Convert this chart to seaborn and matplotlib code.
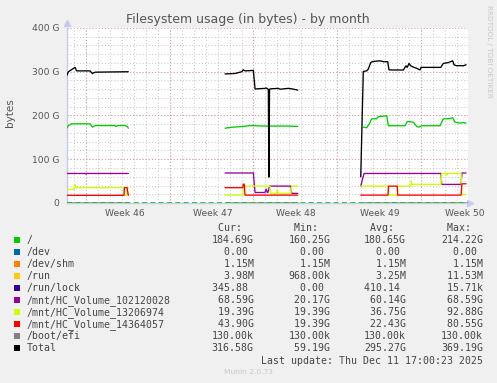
import numpy as np
import pandas as pd
import matplotlib
matplotlib.use("Agg")
import matplotlib.pyplot as plt
from matplotlib.patches import Rectangle
import seaborn as sns

nan = np.nan

# waktu dalam hari sejak awal jendela grafik (33 hari), nilai dalam GB
root_t = [0.00, 0.14, 0.41, 1.92, 2.11, 2.33, 3.97, 4.05, 4.25, 4.80, 4.98, 5.07, nan,
          13.02, 13.70, 14.52, 15.07, 16.45, 18.00, 19.00, nan,
          24.39, 24.67, 24.88, 25.08, 25.49, 25.63, 26.32, 26.45, 27.82, 28.01, 28.50,
          28.78, 28.97, 29.19, 30.70, 30.97, 31.38, 31.74, 31.92, 32.34, 32.61, 32.84]
root_v = [171, 177, 181, 181, 173.4, 177, 177, 175, 177, 177, 175, 171, nan,
          171, 173.4, 175, 177, 175.7, 176, 175, nan,
          173.4, 172, 181, 192.5, 192.5, 197.7, 199, 176.6, 176.6, 186.4, 184.8,
          175, 173.4, 176.6, 176.6, 192.5, 192.5, 194.8, 184.8, 182.5, 184, 182.5]

total_t = [0.00, 0.14, 0.68, 0.82, 1.92, 2.11, 2.33, 3.50, 5.07, nan,
           13.02, 13.84, 14.39, 14.52, 14.66, 15.35, 15.49, 16.31, 16.39, 16.58, 16.63,
           16.68, 16.78, 17.40, 17.54, 18.20, 18.50, 19.00, nan,
           24.18, 24.39, 24.67, 24.80, 25.00, 25.16, 25.76, 26.04, 26.40, 26.50, 26.73,
           27.68, 27.90, 28.00, 28.15, 28.29, 28.56, 28.78, 29.05, 29.14, 30.76, 30.97,
           31.38, 31.74, 31.85, 32.07, 32.34, 32.61, 32.84]
total_v = [291, 300, 310, 302, 302, 296, 299, 299.5, 300, nan,
           295, 296, 300, 304.5, 302, 303, 260.7, 262, 263, 260, 59.2,
           260, 261, 262, 260, 262, 261, 258, nan,
           59.8, 300.7, 302, 306, 321, 323.4, 325, 323, 323, 304.5, 304,
           304, 313.6, 310, 319, 313.6, 310, 308, 304, 310, 310, 319,
           321, 325, 316, 313.6, 314, 313.6, 316]

vol102_t = [0.00, 1.55, 1.60, 1.65, 5.07, nan,
            13.02, 15.35, 15.49, 16.30, 16.40, 16.50, 16.55, 16.68, 18.44, 18.50, 19.00, nan,
            24.18, 24.45, 30.78, 30.84, 32.43, 32.50, 32.84]
vol102_v = [67.5, 67.5, 66, 67.5, 67.5, nan,
            68.6, 68.6, 24, 24, 32, 24, 24, 38.6, 38.6, 22, 22, nan,
            38.6, 67.5, 67.5, 42.5, 42.5, 68.6, 68.6]

vol132_t = [0.00, 0.60, 0.68, 0.75, 4.71, 4.75, 4.96, 5.00, 5.07, nan,
            13.02, 14.50, 14.52, 16.72, 16.78, 17.25, 17.32, 17.39, 18.44, 18.50, 19.00, nan,
            24.18, 26.42, 26.47, 27.18, 27.22, 28.30, 28.33, 28.38, 30.78, 30.84,
            31.20, 31.25, 31.32, 32.43, 32.50, 32.84]
vol132_v = [31, 31, 42, 35, 35, 18, 18, 35, 35, nan,
            18, 18, 38.6, 38.6, 22, 22, 31, 22, 22, 38.6, 38.6, nan,
            38.6, 38.6, 18, 18, 38.6, 38.6, 50, 42.5, 42.5, 67.5,
            67.5, 63, 67.5, 67.5, 19.4, 19.4]

vol143_t = [0.00, 4.71, 4.75, 4.96, 5.07, nan,
            13.02, 14.48, 14.52, 14.60, 14.66, 19.00, nan,
            24.18, 26.42, 26.47, 27.18, 27.22, 32.43, 32.50, 32.84]
vol143_v = [17.5, 17.5, 35, 35, 17.5, nan,
            35, 35, 43, 43, 18, 18, nan,
            18, 18, 38.6, 38.6, 18, 18, 43.9, 43.9]

# seri yang nilainya mendekati nol (GB), hanya pada rentang data
segmen = [(0.00, 5.07), (13.02, 19.00), (24.18, 32.84)]
kecil_nama = ["/dev", "/dev/shm", "/run", "/run/lock", "/boot/efi"]
kecil_nilai = [0.0, 0.00115, 0.00398, 0.0, 0.00013]

# tabel legenda
label = ["/", "/dev", "/dev/shm", "/run", "/run/lock", "/mnt/HC_Volume_102120028",
         "/mnt/HC_Volume_13206974", "/mnt/HC_Volume_14364057", "/boot/efi", "Total"]
warna = ["#00CC00", "#0066B3", "#FF8000", "#FFCC00", "#330099", "#990099",
         "#CCFF00", "#FF0000", "#808080", "#000000"]
cur = ["184.69G", "0.00 ", "1.15M", "3.98M", "345.88 ", "68.59G", "19.39G", "43.90G", "130.00k", "316.58G"]
mins = ["160.25G", "0.00 ", "1.15M", "968.00k", "0.00 ", "20.17G", "19.39G", "19.39G", "130.00k", "59.19G"]
avg = ["180.65G", "0.00 ", "1.15M", "3.25M", "410.14 ", "60.14G", "36.75G", "22.43G", "130.00k", "295.27G"]
maks = ["214.22G", "0.00 ", "1.15M", "11.53M", "15.71k", "68.59G", "92.88G", "80.55G", "130.00k", "369.19G"]

minggu_label = ["Week 46", "Week 47", "Week 48", "Week 49", "Week 50"]
minggu_pos = [4.79, 12.03, 18.86, 25.76, 32.75]
minggu_awal = [1.56, 8.46, 15.36, 22.26, 29.16]
y_ticks = [0, 100, 200, 300, 400]
y_labels = ["0", "100 G", "200 G", "300 G", "400 G"]


def ke_frame(nama, t, v):
    t = np.asarray(t, dtype=float)
    v = np.asarray(v, dtype=float)
    seg = np.cumsum(np.isnan(t))
    df = pd.DataFrame({"day": t, "val": v, "seg": seg, "series": nama})
    return df.dropna()


frames = []
for nama, nilai in zip(kecil_nama, kecil_nilai):
    ts, vs = [], []
    for a, b in segmen:
        ts += [a, b, nan]
        vs += [nilai, nilai, nan]
    frames.append(ke_frame(nama, ts, vs))
frames.append(ke_frame("/", root_t, root_v))
frames.append(ke_frame("/mnt/HC_Volume_102120028", vol102_t, vol102_v))
frames.append(ke_frame("/mnt/HC_Volume_13206974", vol132_t, vol132_v))
frames.append(ke_frame("/mnt/HC_Volume_14364057", vol143_t, vol143_v))
frames.append(ke_frame("Total", total_t, total_v))
data = pd.concat(frames, ignore_index=True)

sns.set_style("white")
plt.rcParams["font.family"] = ["DejaVu Sans"]

W, H = 497, 383
fig = plt.figure(figsize=(W / 100, H / 100), dpi=100, facecolor="#f0f0f0")
ax = fig.add_axes([66.7 / W, 1 - 203 / H, (468 - 66.7) / W, (203 - 28) / H])
ax.set_facecolor("white")

x_max = 33.0
ax.set_xlim(0, x_max)
ax.set_ylim(0, 400)

# grid ala rrdtool
for k in range(-2, 35):
    d = minggu_awal[0] + k * (minggu_awal[1] - minggu_awal[0]) / 7
    if 0 < d < x_max:
        ax.axvline(d, color="#c8c8c8", lw=0.75, ls=(0, (1, 2)), zorder=0.5)
for y in range(20, 400, 20):
    ax.axhline(y, color="#c8c8c8", lw=0.75, ls=(0, (1, 2)), zorder=0.5)
for d in minggu_awal:
    ax.axvline(d, color="#e49a9a", lw=0.75, ls=(0, (1, 2)), zorder=0.6)
for y in [100, 200, 300, 400]:
    ax.axhline(y, color="#e49a9a", lw=0.75, ls=(0, (1, 2)), zorder=0.6)

palet = dict(zip(label, warna))
urutan = kecil_nama + ["/", "/mnt/HC_Volume_102120028", "/mnt/HC_Volume_13206974",
                       "/mnt/HC_Volume_14364057", "Total"]
for nama in urutan:
    sub = data[data["series"] == nama]
    sns.lineplot(data=sub, x="day", y="val", units="seg", estimator=None, sort=False,
                 color=palet[nama], lw=0.95, ax=ax, legend=False, zorder=3)

ax.axhline(0, color="#00cc00", lw=1.2, ls=(0, (3, 2)), zorder=4)

for s in ["top", "right"]:
    ax.spines[s].set_visible(False)
for s in ["left", "bottom"]:
    ax.spines[s].set_color("#c8c8f0")
    ax.spines[s].set_linewidth(1.0)
ax.plot([0], [1.03], marker="^", ms=4, color="#c8c8f0", transform=ax.transAxes, clip_on=False)
ax.plot([1.005], [0], marker=">", ms=4, color="#c8c8f0", transform=ax.transAxes, clip_on=False)

ax.set_xticks(minggu_pos, minggu_label)
ax.set_yticks(y_ticks, y_labels)
ax.tick_params(axis="both", length=0, labelsize=6.6, colors="#555555")
ax.tick_params(axis="x", pad=4.3)
ax.tick_params(axis="y", pad=5.3)
ax.set_xlabel("")
ax.set_ylabel("")


def fx(x):
    return x / W


def fy(y):
    return 1 - y / H


fig.text(fx(248), fy(20), "Filesystem usage (in bytes) - by month", ha="center", va="center",
         fontsize=9, color="#555555")
fig.text(fx(10.5), fy(113), "bytes", rotation=90, ha="center", va="center",
         fontsize=7.5, color="#555555")
fig.text(fx(489), fy(5), "RRDTOOL / TOBI OETIKER", rotation=270, ha="center", va="top",
         fontsize=5.2, color="#c8c8c8")

mono = dict(family="DejaVu Sans Mono", fontsize=7.1, color="#444444")
kol_x = [211.7, 288.3, 364.0, 441.0]
header = ["Cur:", "Min:", "Avg:", "Max:"]
for kx, h in zip(kol_x, header):
    fig.text(fx(kx), fy(227.7 + 3.5), " " + h, ha="left", va="baseline", **mono)

for i, (lab, w) in enumerate(zip(label, warna)):
    yc = 239.5 + i * 12.04
    fig.patches.append(Rectangle((fx(14), fy(yc + 3)), 6 / W, 6 / H, transform=fig.transFigure,
                                 facecolor=w, edgecolor="none"))
    fig.text(fx(26.7), fy(yc + 3.5), lab, ha="left", va="baseline", **mono)
    for kx, kolom in zip(kol_x, [cur, mins, avg, maks]):
        fig.text(fx(kx), fy(yc + 3.5), kolom[i].rjust(7), ha="left", va="baseline", **mono)

fig.text(fx(482.7), fy(360 + 3.5), "Last update: Thu Dec 11 17:00:23 2025", ha="right",
         va="baseline", **mono)
fig.text(fx(248), fy(371.7), "Munin 2.0.73", ha="center", va="center", fontsize=5.4,
         color="#c8c8c8")

fig.savefig("out.png", dpi=100, facecolor=fig.get_facecolor())
